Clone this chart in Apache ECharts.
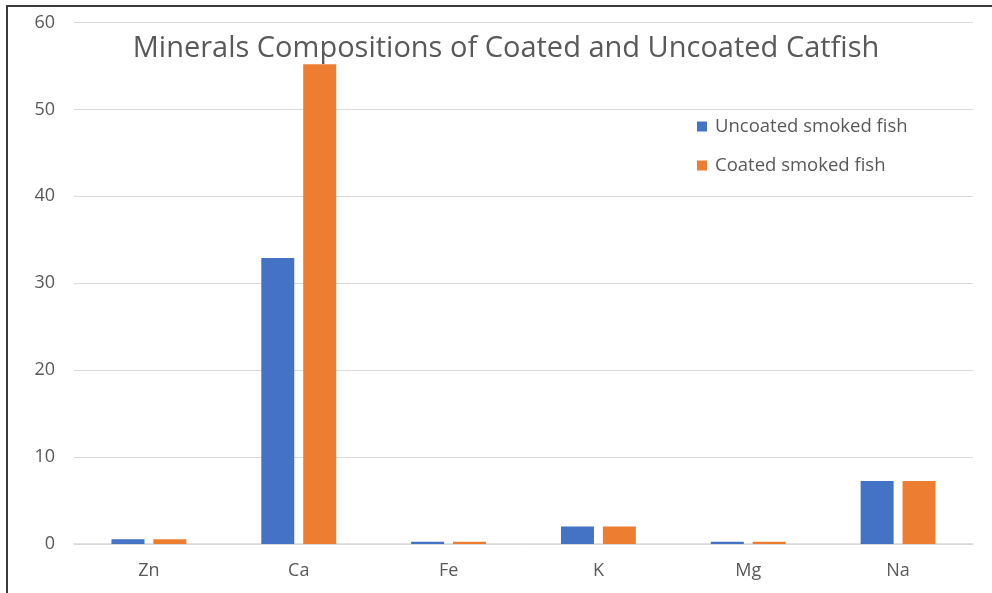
<!DOCTYPE html>
<html><head><meta charset="utf-8">
<script src="https://cdn.jsdelivr.net/npm/echarts@6/dist/echarts.min.js"></script>
<style>
html,body{margin:0;padding:0;background:#fff;}
#frame{position:absolute;left:6px;top:5px;width:986px;height:588px;border-left:2px solid #3a3a3a;border-top:2px solid #3a3a3a;}
#c{position:absolute;left:0;top:0;width:992px;height:593px;}
</style></head>
<body>
<div id="frame"></div>
<div id="c"></div>
<script>
var categories = ['Zn','Ca','Fe','K','Mg','Na'];
var uncoated = [0.55, 32.9, 0.25, 2.0, 0.25, 7.25];
var coated = [0.55, 55.2, 0.25, 2.0, 0.25, 7.25];
var seriesNames = ['Uncoated smoked fish','Coated smoked fish'];
var titleText = 'Minerals Compositions of Coated and Uncoated Catfish';

var chart = echarts.init(document.getElementById('c'), null, {renderer:'canvas'});
chart.setOption({
  animation:false,
  backgroundColor:'transparent',
  textStyle:{fontFamily:'"Open Sans", "Noto Sans", sans-serif'},
  title:{text:titleText, left:501, textAlign:'center', top:29,
    textStyle:{fontSize:29, fontWeight:'normal', color:'#595959', fontFamily:'"Open Sans", "Noto Sans", sans-serif'}},
  legend:{orient:'vertical', left:692, top:112, itemWidth:10, itemHeight:10, itemGap:20,
    icon:'rect',
    textStyle:{fontSize:18.5, color:'#595959', padding:[0,0,0,3]},
    data:seriesNames},
  grid:{left:74, right:19, top:22.5, bottom:49, containLabel:false},
  xAxis:{type:'category', data:categories,
    axisLine:{lineStyle:{color:'#d9d9d9', width:1.5}},
    axisTick:{show:false},
    axisLabel:{fontSize:18, color:'#595959', margin:18}},
  yAxis:{type:'value', min:0, max:60, interval:10,
    axisLine:{show:false}, axisTick:{show:false},
    splitLine:{lineStyle:{color:'#d9d9d9', width:1}},
    axisLabel:{fontSize:18, color:'#595959', margin:19}},
  series:[
    {name:seriesNames[0], type:'bar', data:uncoated, barWidth:33, barGap:'27%',
      itemStyle:{color:'#4472c4'}},
    {name:seriesNames[1], type:'bar', data:coated, barWidth:33,
      itemStyle:{color:'#ed7d31'}}
  ]
});
</script>
</body></html>
